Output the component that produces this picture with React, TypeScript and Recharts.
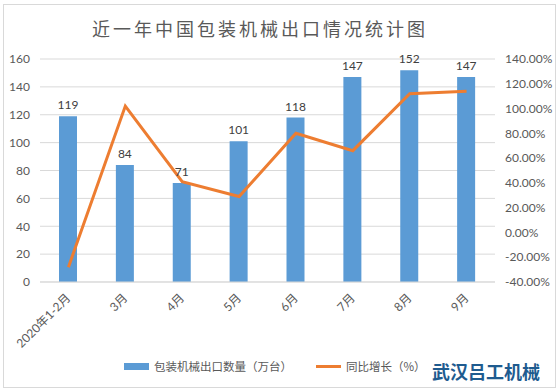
import { Bar, CartesianGrid, ComposedChart, LabelList, Line, XAxis, YAxis } from "recharts"

const months = ["2020年1-2月", "3月", "4月", "5月", "6月", "7月", "8月", "9月"]
const exportCount = [119, 84, 71, 101, 118, 147, 152, 147]
const yoyGrowth = [-28, 102, 41, 29, 80, 66, 112, 114]
const leftTicks = [0, 20, 40, 60, 80, 100, 120, 140, 160]
const rightTicks = [-40, -20, 0, 20, 40, 60, 80, 100, 120, 140]

const barName = "包装机械出口数量（万台）"
const lineName = "同比增长（%）"
const title = "近一年中国包装机械出口情况统计图"
const watermark = "武汉吕工机械"

const data = months.map((m, i) => ({ month: m, count: exportCount[i], growth: yoyGrowth[i] }))

const font = "Lato, 'Noto Sans CJK SC', sans-serif"
const cjk = "'Noto Sans CJK SC', sans-serif"
const textColor = "#595959"

function MonthTick({ x, y, payload }: any) {
  return (
    <g transform={`translate(${x},${y + 6})`}>
      <text
        textAnchor="end"
        transform="rotate(-45)"
        fontSize={12}
        fill={textColor}
        fontFamily={font}
        dy={4}
      >
        {payload.value}
      </text>
    </g>
  )
}

export default function App() {
  return (
    <div
      style={{
        position: "absolute",
        left: 0,
        top: 0,
        width: 560,
        height: 391,
        background: "#fff",
        fontFamily: font,
        overflow: "hidden",
      }}
    >
      <div
        style={{
          position: "absolute",
          left: 3,
          top: 4,
          width: 551,
          height: 382,
          border: "1px solid #d9d9d9",
        }}
      />
      <div
        style={{
          position: "absolute",
          top: 16,
          left: 0,
          width: 520,
          textAlign: "center",
          fontSize: 18,
          letterSpacing: 3,
          color: textColor,
          fontFamily: cjk,
          lineHeight: "24px",
        }}
      >
        {title}
      </div>
      <div style={{ position: "absolute", left: 0, top: 0 }}>
        <ComposedChart
          width={560}
          height={391}
          data={data}
          margin={{ top: 59, right: 0, left: 0, bottom: 49 }}
          barCategoryGap={0}
        >
          <CartesianGrid vertical={false} stroke="#d9d9d9" yAxisId="left" />
          <XAxis
            dataKey="month"
            tick={<MonthTick />}
            tickLine={false}
            axisLine={{ stroke: "#d9d9d9" }}
            height={60}
            interval={0}
          />
          <YAxis
            yAxisId="left"
            domain={[0, 160]}
            ticks={leftTicks}
            width={40}
            axisLine={false}
            tickLine={false}
            tickMargin={4}
            tick={{ fontSize: 12, fill: textColor, fontFamily: font }}
          />
          <YAxis
            yAxisId="right"
            orientation="right"
            domain={[-40, 140]}
            ticks={rightTicks}
            width={65}
            axisLine={false}
            tickLine={false}
            tickMargin={4}
            tickFormatter={(v: number) => `${v.toFixed(2)}%`}
            tick={{ fontSize: 12, fill: textColor, fontFamily: font, textAnchor: "start" }}
          />
          <Bar
            yAxisId="left"
            dataKey="count"
            name={barName}
            fill="#5b9bd5"
            barSize={18}
            isAnimationActive={false}
          >
            <LabelList
              dataKey="count"
              position="top"
              offset={7}
              fontSize={12}
              fill="#404040"
              fontFamily={font}
            />
          </Bar>
          <Line
            yAxisId="right"
            dataKey="growth"
            name={lineName}
            type="linear"
            stroke="#ed7d31"
            strokeWidth={3}
            dot={false}
            activeDot={false}
            isAnimationActive={false}
          />
        </ComposedChart>
      </div>
      <div
        style={{
          position: "absolute",
          top: 358,
          left: 124,
          display: "flex",
          alignItems: "center",
          fontSize: 11.5,
          color: textColor,
          fontFamily: cjk,
          lineHeight: "16px",
        }}
      >
        <span style={{ display: "inline-block", width: 25, height: 7, background: "#5b9bd5", marginRight: 5 }} />
        <span>{barName}</span>
        <span
          style={{
            display: "inline-block",
            width: 25,
            height: 3,
            background: "#ed7d31",
            marginLeft: 24,
            marginRight: 5,
          }}
        />
        <span>{lineName}</span>
      </div>
      <div
        style={{
          position: "absolute",
          top: 359,
          left: 432,
          fontSize: 18,
          fontWeight: 700,
          color: "#1e5b8f",
          fontFamily: cjk,
          lineHeight: "24px",
        }}
      >
        {watermark}
      </div>
    </div>
  )
}
